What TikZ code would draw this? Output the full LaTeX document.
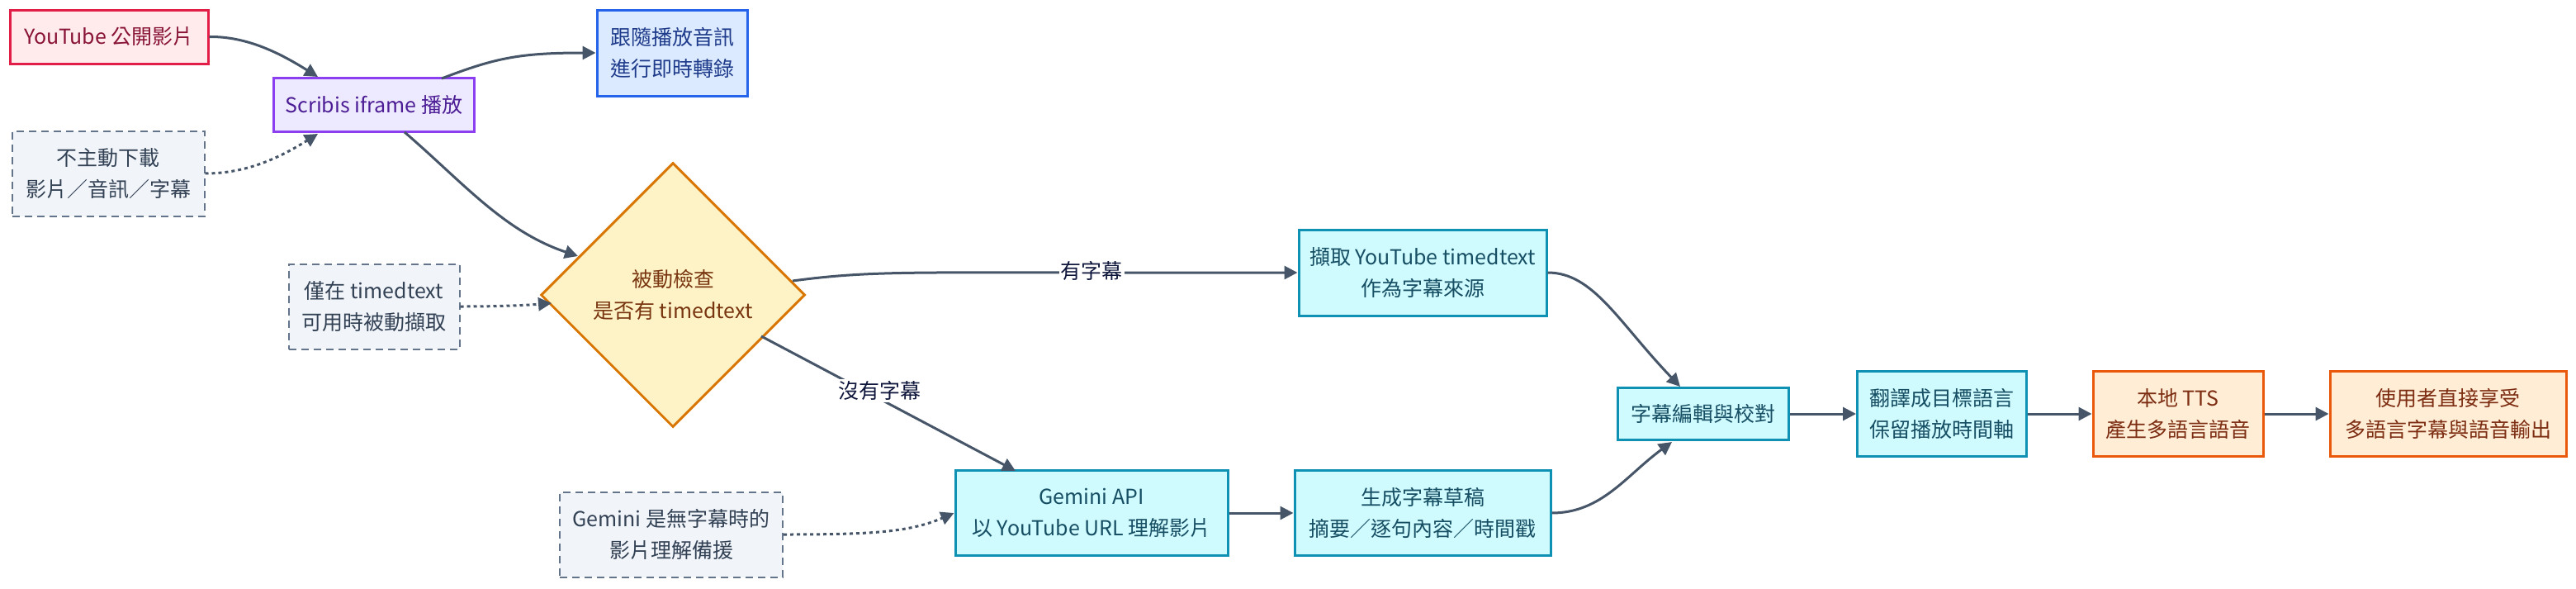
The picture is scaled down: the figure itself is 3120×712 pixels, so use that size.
\documentclass[tikz,border=0pt]{standalone}
\usepackage{fontspec}
\setmainfont{Noto Sans CJK TC}
\usetikzlibrary{arrows.meta,shapes.geometric}
\definecolor{edge}{HTML}{475569}
\tikzset{
 box/.style={draw, line width=3pt, minimum width=#1, align=center, inner sep=0pt, font=\fontsize{25pt}{38pt}\selectfont},
 red/.style={fill=red!8!white, draw={rgb,255:red,225;green,29;blue,72}, text={rgb,255:red,136;green,19;blue,55}},
 pur/.style={fill={rgb,255:red,237;green,233;blue,254}, draw={rgb,255:red,139;green,63;blue,240}, text={rgb,255:red,76;green,29;blue,149}},
 blu/.style={fill={rgb,255:red,219;green,234;blue,254}, draw={rgb,255:red,37;green,99;blue,235}, text={rgb,255:red,30;green,58;blue,138}},
 gry/.style={fill={rgb,255:red,241;green,245;blue,249}, draw={rgb,255:red,100;green,116;blue,139}, dash pattern=on 9pt off 6pt, line width=2pt, text={rgb,255:red,51;green,65;blue,85}},
 cya/.style={fill={rgb,255:red,207;green,250;blue,254}, draw={rgb,255:red,14;green,145;blue,178}, text={rgb,255:red,22;green,78;blue,99}},
 org/.style={fill={rgb,255:red,255;green,237;blue,213}, draw={rgb,255:red,234;green,88;blue,12}, text={rgb,255:red,124;green,45;blue,18}},
 arr/.style={draw=edge, line width=3pt, -{Triangle[length=16pt,width=16pt]}},
 dot/.style={arr, dash pattern=on 4pt off 4pt},
 lbl/.style={fill=white, text={rgb,255:red,15;green,23;blue,60}, font=\fontsize{25pt}{30pt}\selectfont, inner sep=2pt},
}
\begin{document}
\begin{tikzpicture}[x=1pt,y=-1pt]
\useasboundingbox (0,0) rectangle (3120,712);
\node[box=240pt, minimum height=65pt, red] (yt) at (132,44.5) {YouTube 公開影片};
\node[box=243pt, minimum height=65pt, pur] (sc) at (453,127) {Scribis iframe 播放};
\node[box=182pt, minimum height=104pt, blu] (fo) at (814,64) {跟隨播放音訊\\進行即時轉錄};
\node[box=233pt, minimum height=103pt, gry] (nd) at (131,210) {不主動下載\\影片／音訊／字幕};
\node[draw={rgb,255:red,217;green,119;blue,6}, fill={rgb,255:red,254;green,243;blue,199}, text={rgb,255:red,120;green,53;blue,15}, line width=3pt, diamond, minimum width=320pt, minimum height=320pt, inner sep=0pt, align=center, font=\fontsize{25pt}{38pt}\selectfont] (di) at (815,357) {被動檢查\\是否有 timedtext};
\node[box=207pt, minimum height=103pt, gry] (ot) at (453,371) {僅在 timedtext\\可用時被動擷取};
\node[box=300pt, minimum height=104pt, cya] (fe) at (1723,330) {擷取 YouTube timedtext\\作為字幕來源};
\node[box=207pt, minimum height=63pt, cya] (ed) at (2063,501) {字幕編輯與校對};
\node[box=205pt, minimum height=103pt, cya] (tr) at (2352,501) {翻譯成目標語言\\保留播放時間軸};
\node[box=206pt, minimum height=103pt, org] (tt) at (2638,501) {本地 TTS\\產生多語言語音};
\node[box=286pt, minimum height=103pt, org] (us) at (2965,501) {使用者直接享受\\多語言字幕與語音輸出};
\node[box=330pt, minimum height=103pt, cya] (ge) at (1322,621) {Gemini API\\以 YouTube URL 理解影片};
\node[box=310pt, minimum height=103pt, cya] (dr) at (1723,621) {生成字幕草稿\\摘要／逐句內容／時間戳};
\node[box=270pt, minimum height=103pt, gry] (bk) at (813,647) {Gemini 是無字幕時的\\影片理解備援};

\draw[arr] (yt.east) .. controls (300,44) and (340,65) .. (385,93);
\draw[arr] (535,95) .. controls (600,70) and (630,64) .. (fo.west);
\draw[dot] (nd.east) .. controls (300,210) and (340,190) .. (385,162);
\draw[arr] (490,160) .. controls (560,220) and (610,280) .. (700,310);
\draw[dot] (ot.east) .. controls (600,371) and (630,370) .. (668,367);
\draw[arr] (960,340) .. controls (1050,328) and (1100,330) .. (1322,330) -- (fe.west);
\node[lbl] (l1) at (1322,328) {有字幕};
\draw[arr] (922,407) -- (1230,570);
\node[lbl] (l2) at (1065,473) {沒有字幕};
\draw[dot] (bk.east) .. controls (1050,647) and (1100,645) .. (ge.west);
\draw[arr] (ge) -- (dr);
\draw[arr] (fe.east) .. controls (1930,330) and (1960,390) .. (2035,468);
\draw[arr] (dr.east) .. controls (1940,621) and (1970,575) .. (2025,535);
\draw[arr] (ed) -- (tr);
\draw[arr] (tr) -- (tt);
\draw[arr] (tt) -- (us);
\end{tikzpicture}
\end{document}
